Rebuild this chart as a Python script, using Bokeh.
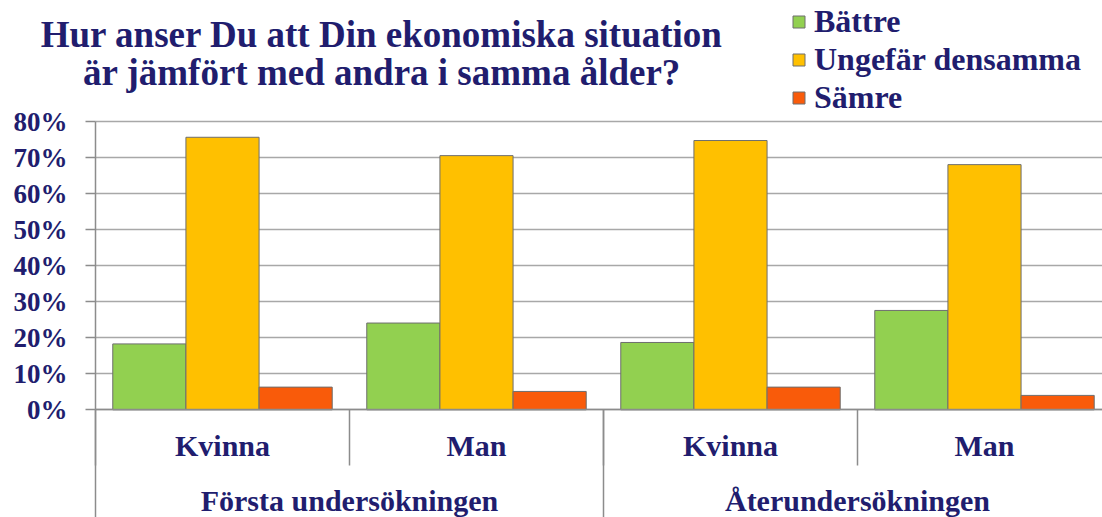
from bokeh.plotting import figure
from bokeh.models import (Range1d, ColumnDataSource, LinearAxis, FixedTicker, Grid,
                          NumeralTickFormatter, Legend, LegendItem, Label)
from bokeh.embed import file_html
from bokeh.resources import INLINE

# ---------------- data ----------------
groups = ["Första undersökningen", "Återundersökningen"]
subgroups = ["Kvinna", "Man"]
series = ["Bättre", "Ungefär densamma", "Sämre"]
battre = [0.183, 0.241, 0.187, 0.276]
ungefar = [0.757, 0.706, 0.748, 0.681]
samre = [0.063, 0.051, 0.063, 0.040]
y_ticks = [0.0, 0.1, 0.2, 0.3, 0.4, 0.5, 0.6, 0.7, 0.8]
title_lines = ["Hur anser Du att Din ekonomiska situation",
               "är jämfört med andra i samma ålder?"]

# ---------------- style ----------------
colors = ["#92D050", "#FFC000", "#F95B0A"]
FONT = "Liberation Serif"
NAVY = "#211D6E"
AXIS_GREY = "#8C8C8C"
GRID_GREY = "#A8A8A8"

W, H = 1102, 517
PLOT_LEFT = 95        # px of the value axis
CAT_PX = 254          # px per category
ZERO_Y = 409.3        # px from top of 0 %
PX_PER_UNIT = 360.0   # px per 100 %

ns = len(subgroups)
ncat = len(groups) * ns
labels_sub = [s for g in groups for s in subgroups]
cat_centers = [i + 0.5 for i in range(ncat)]
group_centers = [gi * ns + ns / 2 for gi in range(len(groups))]
inner_bounds = [float(i) for i in range(ncat + 1)]
group_bounds = [float(gi * ns) for gi in range(len(groups) + 1)]

x_range = Range1d(-PLOT_LEFT / CAT_PX, (W - PLOT_LEFT) / CAT_PX)
y_range = Range1d(-(H - ZERO_Y) / PX_PER_UNIT,
                  y_ticks[-1] + (ZERO_Y - y_ticks[-1] * PX_PER_UNIT) / PX_PER_UNIT)

p = figure(width=W, height=H, x_range=x_range, y_range=y_range,
           x_axis_location=None, y_axis_location=None,
           output_backend="svg", toolbar_location=None,
           min_border_left=0, min_border_right=0, min_border_top=0, min_border_bottom=0)
p.outline_line_color = None
p.background_fill_color = "white"
p.border_fill_color = "white"
p.grid.visible = False

# ---------------- bars ----------------
w = 0.288
renderers = []
for vals, off, col in zip([battre, ungefar, samre], [-w, 0, w], colors):
    src = ColumnDataSource(dict(x=[c + off for c in cat_centers], top=vals))
    r = p.vbar(x="x", top="top", width=w, source=src,
               fill_color=col, line_color="#6E6E6E", line_width=1)
    renderers.append(r)

# ---------------- value axis ----------------
yax = LinearAxis(fixed_location=0, bounds=(0, y_ticks[-1]),
                 ticker=FixedTicker(ticks=y_ticks),
                 formatter=NumeralTickFormatter(format="0%"),
                 major_label_text_font=FONT, major_label_text_font_style="bold",
                 major_label_text_font_size="27px", major_label_text_color=NAVY,
                 major_label_standoff=18, major_tick_out=10, major_tick_in=0,
                 minor_tick_line_color=None,
                 axis_line_color=AXIS_GREY, axis_line_width=1.5,
                 major_tick_line_color=AXIS_GREY, major_tick_line_width=1.5)
p.add_layout(yax, "left")

grid = Grid(dimension=1, ticker=FixedTicker(ticks=y_ticks), axis=yax,
            grid_line_color=GRID_GREY, grid_line_width=1.5,
            cross_bounds=(0, ncat))
p.add_layout(grid, "center")

# ---------------- category separators ----------------
for ticks, length in [(inner_bounds, 56), (group_bounds, 120)]:
    sep = LinearAxis(fixed_location=0, bounds=(0, ncat),
                     ticker=FixedTicker(ticks=ticks),
                     major_label_overrides={t: "" for t in ticks},
                     major_label_text_color=None,
                     major_tick_out=length, major_tick_in=0,
                     major_tick_line_color=AXIS_GREY, major_tick_line_width=1.5,
                     minor_tick_line_color=None, axis_line_color=None)
    p.add_layout(sep, "below")

# ---------------- category labels ----------------
axA = LinearAxis(fixed_location=0, bounds=(0, ncat),
                 ticker=FixedTicker(ticks=cat_centers),
                 major_label_overrides={c: l for c, l in zip(cat_centers, labels_sub)},
                 major_label_standoff=19, major_tick_out=0, major_tick_in=0,
                 major_tick_line_color=None, minor_tick_line_color=None,
                 axis_line_color=AXIS_GREY, axis_line_width=1.5,
                 major_label_text_font=FONT, major_label_text_font_style="bold",
                 major_label_text_font_size="30px", major_label_text_color=NAVY)
p.add_layout(axA, "below")
axB = LinearAxis(fixed_location=0, bounds=(0, ncat),
                 ticker=FixedTicker(ticks=group_centers),
                 major_label_overrides={c: g for c, g in zip(group_centers, groups)},
                 major_label_standoff=74, major_tick_out=0, major_tick_in=0,
                 major_tick_line_color=None, minor_tick_line_color=None,
                 axis_line_color=None,
                 major_label_text_font=FONT, major_label_text_font_style="bold",
                 major_label_text_font_size="30px", major_label_text_color=NAVY)
p.add_layout(axB, "below")

# ---------------- legend ----------------
legend = Legend(items=[LegendItem(label=s, renderers=[r]) for s, r in zip(series, renderers)],
                location=(791, 401), orientation="vertical",
                glyph_width=15, glyph_height=15, label_standoff=8, spacing=1,
                padding=0, margin=0, border_line_color=None, background_fill_alpha=0,
                label_text_font=FONT, label_text_font_style="bold",
                label_text_font_size="32px", label_text_color=NAVY)
p.add_layout(legend, "center")

# ---------------- title ----------------
for txt, yy in zip(title_lines, [483, 445]):
    p.add_layout(Label(x=381.5, y=yy, x_units="screen", y_units="screen", text=txt,
                       text_align="center", text_baseline="middle",
                       text_font=FONT, text_font_style="bold", text_font_size="37px",
                       text_color=NAVY))

open("out.html", "w").write(file_html(p, INLINE))
